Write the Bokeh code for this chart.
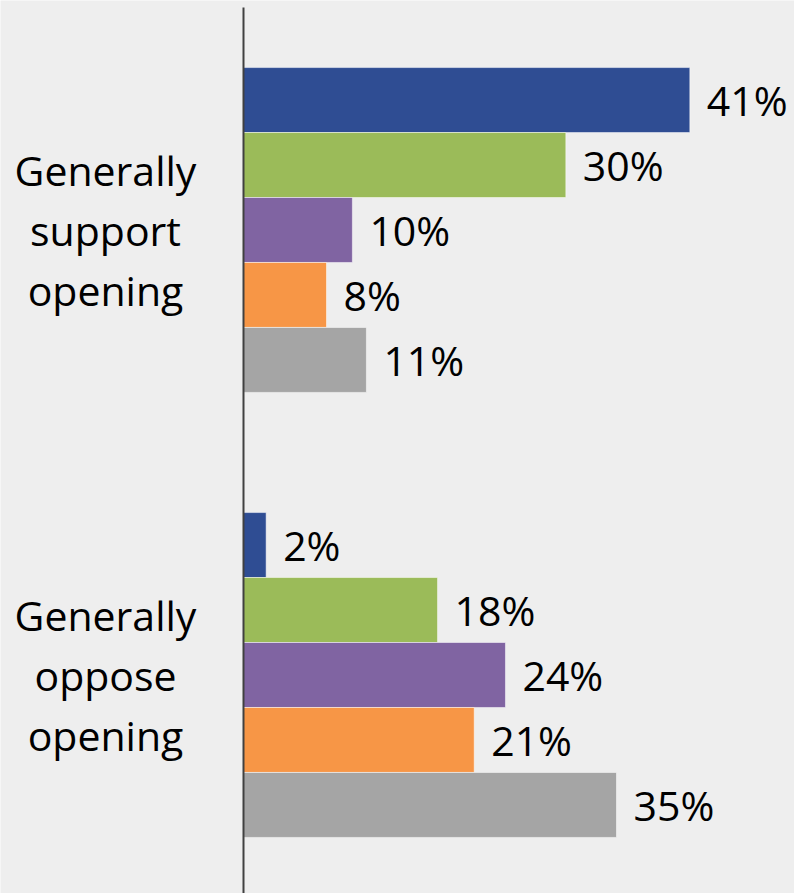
from bokeh.plotting import figure
from bokeh.models import ColumnDataSource, Range1d
from bokeh.core.properties import value
from bokeh.embed import file_html
from bokeh.resources import INLINE

# ---- data ----
categories = ["Generally\nsupport\nopening", "Generally\noppose\nopening"]
series_colors = ["#2F4D93", "#9BBB59", "#8064A2", "#F79646", "#A5A5A5"]
support_values = [41.4, 29.9, 10.1, 7.7, 11.4]
oppose_values = [2.1, 18.0, 24.3, 21.4, 34.6]

# ---- layout helpers ----
cat_pos = [1.5, 0.5]          # category centers (top group first)
bar_h = 0.146
n_series = len(series_colors)

ys, rights, colors, labels = [], [], [], []
for c, vals in zip(cat_pos, [support_values, oppose_values]):
    for i, v in enumerate(vals):
        ys.append(c + (2 - i) * bar_h)
        rights.append(v)
        colors.append(series_colors[i])
        labels.append("{:.0f}%".format(v))

src = ColumnDataSource(dict(y=ys, right=rights, left=[0] * len(ys), color=colors, label=labels))

p = figure(width=794, height=893, output_backend="svg", toolbar_location=None,
           x_range=Range1d(-22.54, 51.11), y_range=Range1d(0.009, 2.0157),
           min_border=0, min_border_left=0, min_border_right=0,
           min_border_top=0, min_border_bottom=0)
p.background_fill_color = "#EEEEEE"
p.border_fill_color = "#EEEEEE"
p.outline_line_color = None
p.xaxis.visible = False
p.yaxis.visible = False
p.xgrid.visible = False
p.ygrid.visible = False

p.hbar(y="y", left="left", right="right", height=bar_h, source=src,
       fill_color="color", line_color="white", line_alpha=0.5, line_width=1)

p.text(x="right", y="y", text="label", source=src, x_offset=17,
       text_font=value("Open Sans"), text_font_size="41px",
       text_baseline="middle", text_align="left", text_color="#000000")

# axis line
p.segment(x0=[0], y0=[2.0], x1=[0], y1=[0.0], line_color="#404040", line_width=2)

cat_src = ColumnDataSource(dict(x=[-12.8, -12.8], y=cat_pos, text=categories))
p.text(x="x", y="y", text="text", source=cat_src,
       text_font=value("Open Sans"), text_font_size="41px",
       text_baseline="middle", text_align="center", text_line_height=1.08,
       text_color="#000000")

open("out.html", "w").write(file_html(p, INLINE))
